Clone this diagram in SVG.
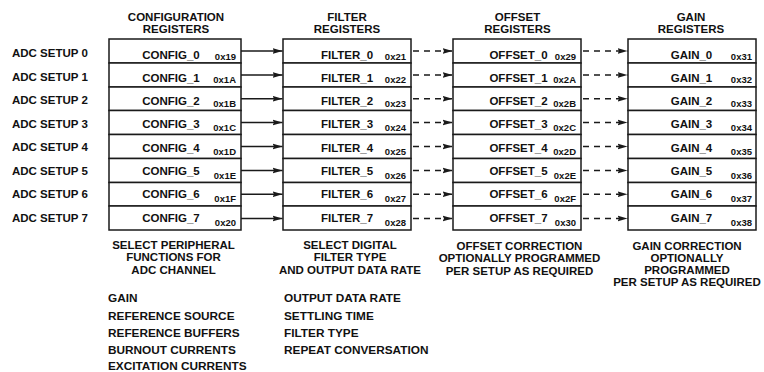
<svg xmlns="http://www.w3.org/2000/svg" width="764" height="372" viewBox="0 0 764 372">
<style>
text{font-family:"Liberation Sans",Arial,sans-serif;font-weight:bold;fill:#111}
.hd{font-size:11.5px;text-anchor:middle}
.lbl{font-size:11.5px}
.reg{font-size:11.5px;text-anchor:middle}
.hex{font-size:9.5px;text-anchor:end}
.desc{font-size:11.5px;text-anchor:middle}
.lst{font-size:11.8px}
rect{fill:#fff;stroke:#1a1a1a;stroke-width:1.5}
.arr{stroke:#1a1a1a;stroke-width:1.5;fill:none;marker-end:url(#ah)}
.dash{stroke-dasharray:6 5;stroke-dashoffset:-2}
</style>
<defs>
<marker id="ah" markerUnits="userSpaceOnUse" markerWidth="11" markerHeight="7" refX="10" refY="3.5" orient="auto">
<path d="M0,0.5 L10,3.5 L0,6.5 L1.5,3.5 z" fill="#1a1a1a"/>
</marker>
</defs>

<g id="headers">
<text class="hd" x="176" y="20.5">CONFIGURATION</text>
<text class="hd" x="176" y="32.5">REGISTERS</text>
<text class="hd" x="347" y="20.5">FILTER</text>
<text class="hd" x="347" y="32.5">REGISTERS</text>
<text class="hd" x="517.5" y="20.5">OFFSET</text>
<text class="hd" x="517.5" y="32.5">REGISTERS</text>
<text class="hd" x="691" y="20.5">GAIN</text>
<text class="hd" x="691" y="32.5">REGISTERS</text>
</g>

<g id="setup-labels">
<text class="lbl" x="12" y="57.3">ADC SETUP 0</text>
<text class="lbl" x="12" y="80.8">ADC SETUP 1</text>
<text class="lbl" x="12" y="104.3">ADC SETUP 2</text>
<text class="lbl" x="12" y="127.8">ADC SETUP 3</text>
<text class="lbl" x="12" y="151.3">ADC SETUP 4</text>
<text class="lbl" x="12" y="174.8">ADC SETUP 5</text>
<text class="lbl" x="12" y="198.3">ADC SETUP 6</text>
<text class="lbl" x="12" y="221.8">ADC SETUP 7</text>
</g>

<g id="config">
<g id="config_0"><rect x="109" y="39" width="132" height="24"/><text class="reg" x="171" y="58.5">CONFIG_0</text><text class="hex" x="236" y="59.5">0x19</text></g>
<g id="config_1"><rect x="109" y="63" width="132" height="24"/><text class="reg" x="171" y="81.8">CONFIG_1</text><text class="hex" x="236" y="83.3">0x1A</text></g>
<g id="config_2"><rect x="109" y="87" width="132" height="23.5"/><text class="reg" x="171" y="105.1">CONFIG_2</text><text class="hex" x="236" y="107.1">0x1B</text></g>
<g id="config_3"><rect x="109" y="110.5" width="132" height="24"/><text class="reg" x="171" y="128.4">CONFIG_3</text><text class="hex" x="236" y="130.9">0x1C</text></g>
<g id="config_4"><rect x="109" y="134.5" width="132" height="24"/><text class="reg" x="171" y="151.7">CONFIG_4</text><text class="hex" x="236" y="154.7">0x1D</text></g>
<g id="config_5"><rect x="109" y="158.5" width="132" height="24"/><text class="reg" x="171" y="175">CONFIG_5</text><text class="hex" x="236" y="178.5">0x1E</text></g>
<g id="config_6"><rect x="109" y="182.5" width="132" height="23.5"/><text class="reg" x="171" y="198.3">CONFIG_6</text><text class="hex" x="236" y="202.3">0x1F</text></g>
<g id="config_7"><rect x="109" y="206" width="132" height="24"/><text class="reg" x="171" y="221.6">CONFIG_7</text><text class="hex" x="236" y="226.1">0x20</text></g>
</g>

<g id="filter">
<g id="filter_0"><rect x="283" y="39" width="128" height="24"/><text class="reg" x="347" y="58.5">FILTER_0</text><text class="hex" x="406" y="59.5">0x21</text></g>
<g id="filter_1"><rect x="283" y="63" width="128" height="24"/><text class="reg" x="347" y="81.8">FILTER_1</text><text class="hex" x="406" y="83.3">0x22</text></g>
<g id="filter_2"><rect x="283" y="87" width="128" height="23.5"/><text class="reg" x="347" y="105.1">FILTER_2</text><text class="hex" x="406" y="107.1">0x23</text></g>
<g id="filter_3"><rect x="283" y="110.5" width="128" height="24"/><text class="reg" x="347" y="128.4">FILTER_3</text><text class="hex" x="406" y="130.9">0x24</text></g>
<g id="filter_4"><rect x="283" y="134.5" width="128" height="24"/><text class="reg" x="347" y="151.7">FILTER_4</text><text class="hex" x="406" y="154.7">0x25</text></g>
<g id="filter_5"><rect x="283" y="158.5" width="128" height="24"/><text class="reg" x="347" y="175">FILTER_5</text><text class="hex" x="406" y="178.5">0x26</text></g>
<g id="filter_6"><rect x="283" y="182.5" width="128" height="23.5"/><text class="reg" x="347" y="198.3">FILTER_6</text><text class="hex" x="406" y="202.3">0x27</text></g>
<g id="filter_7"><rect x="283" y="206" width="128" height="24"/><text class="reg" x="347" y="221.6">FILTER_7</text><text class="hex" x="406" y="226.1">0x28</text></g>
</g>

<g id="offset">
<g id="offset_0"><rect x="453" y="39" width="128" height="24"/><text class="reg" x="518.5" y="58.5">OFFSET_0</text><text class="hex" x="576" y="59.5">0x29</text></g>
<g id="offset_1"><rect x="453" y="63" width="128" height="24"/><text class="reg" x="518.5" y="81.8">OFFSET_1</text><text class="hex" x="576" y="83.3">0x2A</text></g>
<g id="offset_2"><rect x="453" y="87" width="128" height="23.5"/><text class="reg" x="518.5" y="105.1">OFFSET_2</text><text class="hex" x="576" y="107.1">0x2B</text></g>
<g id="offset_3"><rect x="453" y="110.5" width="128" height="24"/><text class="reg" x="518.5" y="128.4">OFFSET_3</text><text class="hex" x="576" y="130.9">0x2C</text></g>
<g id="offset_4"><rect x="453" y="134.5" width="128" height="24"/><text class="reg" x="518.5" y="151.7">OFFSET_4</text><text class="hex" x="576" y="154.7">0x2D</text></g>
<g id="offset_5"><rect x="453" y="158.5" width="128" height="24"/><text class="reg" x="518.5" y="175">OFFSET_5</text><text class="hex" x="576" y="178.5">0x2E</text></g>
<g id="offset_6"><rect x="453" y="182.5" width="128" height="23.5"/><text class="reg" x="518.5" y="198.3">OFFSET_6</text><text class="hex" x="576" y="202.3">0x2F</text></g>
<g id="offset_7"><rect x="453" y="206" width="128" height="24"/><text class="reg" x="518.5" y="221.6">OFFSET_7</text><text class="hex" x="576" y="226.1">0x30</text></g>
</g>

<g id="gain">
<g id="gain_0"><rect x="628" y="39" width="128" height="24"/><text class="reg" x="691.5" y="58.5">GAIN_0</text><text class="hex" x="752" y="59.5">0x31</text></g>
<g id="gain_1"><rect x="628" y="63" width="128" height="24"/><text class="reg" x="691.5" y="81.8">GAIN_1</text><text class="hex" x="752" y="83.3">0x32</text></g>
<g id="gain_2"><rect x="628" y="87" width="128" height="23.5"/><text class="reg" x="691.5" y="105.1">GAIN_2</text><text class="hex" x="752" y="107.1">0x33</text></g>
<g id="gain_3"><rect x="628" y="110.5" width="128" height="24"/><text class="reg" x="691.5" y="128.4">GAIN_3</text><text class="hex" x="752" y="130.9">0x34</text></g>
<g id="gain_4"><rect x="628" y="134.5" width="128" height="24"/><text class="reg" x="691.5" y="151.7">GAIN_4</text><text class="hex" x="752" y="154.7">0x35</text></g>
<g id="gain_5"><rect x="628" y="158.5" width="128" height="24"/><text class="reg" x="691.5" y="175">GAIN_5</text><text class="hex" x="752" y="178.5">0x36</text></g>
<g id="gain_6"><rect x="628" y="182.5" width="128" height="23.5"/><text class="reg" x="691.5" y="198.3">GAIN_6</text><text class="hex" x="752" y="202.3">0x37</text></g>
<g id="gain_7"><rect x="628" y="206" width="128" height="24"/><text class="reg" x="691.5" y="221.6">GAIN_7</text><text class="hex" x="752" y="226.1">0x38</text></g>
</g>

<g id="connectors">
<path class="arr" d="M241,51H282.5"/>
<path class="arr" d="M241,75H282.5"/>
<path class="arr" d="M241,98.75H282.5"/>
<path class="arr" d="M241,122.5H282.5"/>
<path class="arr" d="M241,146.5H282.5"/>
<path class="arr" d="M241,170.5H282.5"/>
<path class="arr" d="M241,194.25H282.5"/>
<path class="arr" d="M241,218.5H282.5"/>
<path class="arr dash" d="M411,51H452.5"/>
<path class="arr dash" d="M411,75H452.5"/>
<path class="arr dash" d="M411,98.75H452.5"/>
<path class="arr dash" d="M411,122.5H452.5"/>
<path class="arr dash" d="M411,146.5H452.5"/>
<path class="arr dash" d="M411,170.5H452.5"/>
<path class="arr dash" d="M411,194.25H452.5"/>
<path class="arr dash" d="M411,218.5H452.5"/>
<path class="arr dash" d="M581,51H627.5"/>
<path class="arr dash" d="M581,75H627.5"/>
<path class="arr dash" d="M581,98.75H627.5"/>
<path class="arr dash" d="M581,122.5H627.5"/>
<path class="arr dash" d="M581,146.5H627.5"/>
<path class="arr dash" d="M581,170.5H627.5"/>
<path class="arr dash" d="M581,194.25H627.5"/>
<path class="arr dash" d="M581,218.5H627.5"/>
</g>

<g id="descriptions">
<text class="desc" x="173.5" y="249">SELECT PERIPHERAL</text>
<text class="desc" x="173.5" y="261.3">FUNCTIONS FOR</text>
<text class="desc" x="173.5" y="273.6">ADC CHANNEL</text>
<text class="desc" x="350" y="249">SELECT DIGITAL</text>
<text class="desc" x="350" y="261.3">FILTER TYPE</text>
<text class="desc" x="350" y="273.6">AND OUTPUT DATA RATE</text>
<text class="desc" x="519.5" y="249.5">OFFSET CORRECTION</text>
<text class="desc" x="519.5" y="262.3">OPTIONALLY PROGRAMMED</text>
<text class="desc" x="519.5" y="275">PER SETUP AS REQUIRED</text>
<text class="desc" x="687" y="249.5">GAIN CORRECTION</text>
<text class="desc" x="687" y="261.5">OPTIONALLY</text>
<text class="desc" x="687" y="273.5">PROGRAMMED</text>
<text class="desc" x="687" y="285.5">PER SETUP AS REQUIRED</text>
</g>

<g id="lists">
<text class="lst" x="108" y="302">GAIN</text>
<text class="lst" x="108" y="319.5">REFERENCE SOURCE</text>
<text class="lst" x="108" y="337">REFERENCE BUFFERS</text>
<text class="lst" x="108" y="354">BURNOUT CURRENTS</text>
<text class="lst" x="108" y="369.5">EXCITATION CURRENTS</text>
<text class="lst" x="284" y="302">OUTPUT DATA RATE</text>
<text class="lst" x="284" y="319.5">SETTLING TIME</text>
<text class="lst" x="284" y="337">FILTER TYPE</text>
<text class="lst" x="284" y="354">REPEAT CONVERSATION</text>
</g>
</svg>
